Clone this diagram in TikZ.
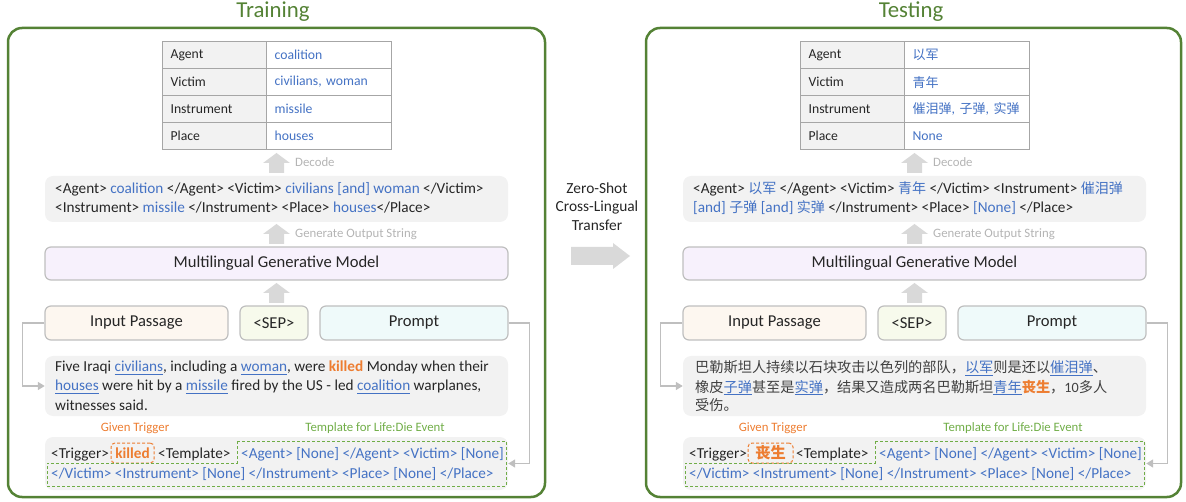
\documentclass[tikz,border=0pt]{standalone}
\usepackage{fontspec}
\setmainfont{Carlito}
\newfontfamily\cjk{Noto Sans CJK SC}
\usetikzlibrary{arrows.meta}
\definecolor{frameg}{HTML}{548235}
\definecolor{tgreen}{HTML}{70AD47}
\definecolor{tblue}{HTML}{4472C4}
\definecolor{torange}{HTML}{ED7D31}
\definecolor{tdark}{HTML}{262626}
\definecolor{cjkdark}{HTML}{404040}
\definecolor{lgray}{HTML}{F2F2F2}
\definecolor{bgray}{HTML}{BFBFBF}
\definecolor{agray}{HTML}{D9D9D9}
\definecolor{tabline}{HTML}{A6A6A6}
\definecolor{lblgray}{HTML}{B4B4B4}
\definecolor{mgmfill}{HTML}{F7F1FC}
\definecolor{inpfill}{HTML}{FDF7F0}
\definecolor{sepfill}{HTML}{F7FAEC}
\definecolor{prfill}{HTML}{EFFAFA}
\newcommand\myul[1]{\setbox0=\hbox{#1}\rlap{\rule[-3pt]{\wd0}{1.2pt}}\box0}
\newcommand\bl[1]{\textcolor{tblue}{#1}}
\newcommand\blu[1]{\textcolor{tblue}{\myul{#1}}}
\newcommand\kil[1]{\textcolor{torange}{\bfseries #1}}
\newcommand\cjo[1]{{\cjk\fontsize{14}{16}\selectfont #1}}
\newcommand\cjt[1]{{\cjk\fontsize{13}{16}\selectfont #1}}
\tikzset{
  frame/.style={draw=frameg, line width=2.5pt, rounded corners=14pt},
  ttl/.style={text=frameg, font=\fontsize{22.8}{26}\selectfont, inner sep=0pt},
  cellk/.style={draw=tabline, line width=1.2pt, fill=lgray, minimum height=27pt, text width=88pt, inner xsep=8pt, inner ysep=0pt, align=left, anchor=north west, font=\fontsize{13.7}{16}\selectfont},
  cellv/.style={cellk, fill=white, text width=109pt, text=tblue},
  gbox/.style={fill=lgray, rounded corners=8pt, inner sep=0pt},
  mbox/.style={draw=bgray, line width=1.2pt, rounded corners=6pt, inner sep=0pt, font=\fontsize{16.6}{19}\selectfont},
  ln/.style={anchor=base west, inner sep=0pt},
  lbl/.style={text=lblgray, font=\fontsize{12.8}{15}\selectfont, anchor=west, inner sep=0pt},
  conn/.style={draw=bgray, line width=1.5pt, -{Triangle[length=7pt,width=8pt]}},
  trigbox/.style={draw=torange, dash pattern=on 3pt off 2pt, line width=1pt, rounded corners=4pt, minimum width=43pt, minimum height=20pt, inner sep=0pt},
  tmplpath/.style={draw=tgreen, dash pattern=on 3pt off 2pt, line width=1pt},
  cjkln/.style={ln, font=\cjk\fontsize{14.2}{17}\selectfont, text=cjkdark},
  uparr/.pic={\fill[agray] (-7.5,0) -- (-7.5,-10) -- (-13.5,-10) -- (0,-20) -- (13.5,-10) -- (7.5,-10) -- (7.5,0) -- cycle;}
}
\begin{document}
\begin{tikzpicture}[x=1pt,y=-1pt, font=\fontsize{15.25}{18}\selectfont, text=tdark]
\useasboundingbox (0,0) rectangle (1186,502);
% ================= TRAINING =================
\node[ttl] (Lttl) at (273,12) {Training};
\draw[frame] (8,28) rectangle (545,497);
% table
\node[cellk] (La1) at (162,41) {Agent};
\node[cellv] (La2) at (266,41) {coalition};
\node[cellk] (Lv1) at (162,68) {Victim};
\node[cellv] (Lv2) at (266,68) {civilians, woman};
\node[cellk] (Li1) at (162,95) {Instrument};
\node[cellv] (Li2) at (266,95) {missile};
\node[cellk] (Lp1) at (162,122) {Place};
\node[cellv] (Lp2) at (266,122) {houses};
\pic at (276.5,173) {uparr};
\node[lbl] (Ldec) at (295,162) {Decode};
% output string
\node[gbox, minimum width=463pt, minimum height=46pt] (Lout) at (276.5,199) {};
\node[ln] (Lo1) at (55,194) {<Agent> \bl{coalition} </Agent> <Victim> \bl{civilians [and] woman} </Victim>};
\node[ln] (Lo2) at (55,213) {<Instrument> \bl{missile} </Instrument> <Place> \bl{houses}</Place>};
\pic at (276.5,244) {uparr};
\node[lbl] (Lgen) at (295,234) {Generate Output String};
\node[mbox, fill=mgmfill, minimum width=463pt, minimum height=33pt] (Lmgm) at (276.5,263.5) {Multilingual Generative Model};
\pic at (276.5,303) {uparr};
\node[mbox, fill=inpfill, minimum width=183pt, minimum height=34pt] (Linp) at (136.5,323) {Input Passage};
\node[mbox, fill=sepfill, minimum width=68pt, minimum height=34pt] (Lsep) at (274,323) {<SEP>};
\node[mbox, fill=prfill, minimum width=188pt, minimum height=34pt] (Lpr) at (414,323) {Prompt};
% passage
\node[gbox, minimum width=463pt, minimum height=60pt] (Lpas) at (276.5,386) {};
\node[ln] (Lt1) at (55,372) {Five Iraqi \blu{civilians}, including a \blu{woman}, were \kil{killed} Monday when their};
\node[ln] (Lt2) at (55,391) {\blu{houses} were hit by a \blu{missile} fired by the US - led \blu{coalition} warplanes,};
\node[ln] (Lt3) at (55,410) {witnesses said.};
\node[lbl, anchor=center, text=torange] (Lgt) at (135,428) {Given Trigger};
\node[lbl, anchor=center, text=tgreen] (Ltf) at (375,428) {Template for Life:Die Event};
% prompt
\node[gbox, minimum width=463pt, minimum height=53pt] (Lbot) at (276.5,463.5) {};
\node[ln] (Ltrg) at (51,458) {<Trigger>};
\node[trigbox] (Lkb) at (132.5,453) {\kil{killed}};
\node[ln] (Ltpl) at (158,458) {<Template>};
\node[ln] (Lb1) at (241,458) {\bl{<Agent> [None] </Agent> <Victim> [None]}};
\node[ln] (Lb2) at (51,478) {\bl{</Victim> <Instrument> [None] </Instrument> <Place> [None] </Place>}};
\draw[tmplpath] (237,441) -- (506,441) -- (506,486) -- (47,486) -- (47,463) -- (237,463) -- cycle;
\draw[conn] (Linp.west) -- ++(-22,0) |- (Lpas.west);
\draw[conn] (Lpr.east) -- ++(21,0) |- (Lbot.east);
% ================= MIDDLE =================
\node[align=center, font=\fontsize{15.4}{18.5}\selectfont] (zs) at (597,206.5) {Zero-Shot\\Cross-Lingual\\Transfer};
\fill[agray] (571,247) -- (613,247) -- (613,243) -- (630,256) -- (613,269) -- (613,265) -- (571,265) -- cycle;
% ================= TESTING =================
\node[ttl] (Rttl) at (911,12) {Testing};
\draw[frame] (646,28) rectangle (1181,497);
\node[cellk] (Ra1) at (800,41) {Agent};
\node[cellv] (Ra2) at (904,41) {\cjt{以军}};
\node[cellk] (Rv1) at (800,68) {Victim};
\node[cellv] (Rv2) at (904,68) {\cjt{青年}};
\node[cellk] (Ri1) at (800,95) {Instrument};
\node[cellv] (Ri2) at (904,95) {\mbox{\cjt{催泪弹}, \cjt{子弹}, \cjt{实弹}}};
\node[cellk] (Rp1) at (800,122) {Place};
\node[cellv] (Rp2) at (904,122) {None};
\pic at (914.5,173) {uparr};
\node[lbl] (Rdec) at (933,162) {Decode};
\node[gbox, minimum width=463pt, minimum height=46pt] (Rout) at (914.5,199) {};
\node[ln] (Ro1) at (693,194) {<Agent> \bl{\cjo{以军}} </Agent> <Victim> \bl{\cjo{青年}} </Victim> <Instrument> \bl{\cjo{催泪弹}}};
\node[ln] (Ro2) at (693,213) {\bl{[and] \cjo{子弹} [and] \cjo{实弹}} </Instrument> <Place> \bl{[None]} </Place>};
\pic at (914.5,244) {uparr};
\node[lbl] (Rgen) at (933,234) {Generate Output String};
\node[mbox, fill=mgmfill, minimum width=463pt, minimum height=33pt] (Rmgm) at (914.5,263.5) {Multilingual Generative Model};
\pic at (914.5,303) {uparr};
\node[mbox, fill=inpfill, minimum width=183pt, minimum height=34pt] (Rinp) at (774.5,323) {Input Passage};
\node[mbox, fill=sepfill, minimum width=68pt, minimum height=34pt] (Rsep) at (912,323) {<SEP>};
\node[mbox, fill=prfill, minimum width=188pt, minimum height=34pt] (Rpr) at (1052,323) {Prompt};
\node[gbox, minimum width=463pt, minimum height=60pt] (Rpas) at (914.5,386) {};
\node[cjkln] (Rt1) at (695,373) {巴勒斯坦人持续以石块攻击以色列的部队，\blu{以军}则是还以\blu{催泪弹}、};
\node[cjkln] (Rt2) at (695,392) {橡皮\blu{子弹}甚至是\blu{实弹}，结果又造成两名巴勒斯坦\blu{青年}\kil{丧生}，{\rmfamily 10}多人};
\node[cjkln] (Rt3) at (695,410) {受伤。};
\node[lbl, anchor=center, text=torange] (Rgt) at (773,428) {Given Trigger};
\node[lbl, anchor=center, text=tgreen] (Rtf) at (1013,428) {Template for Life:Die Event};
\node[gbox, minimum width=463pt, minimum height=53pt] (Rbot) at (914.5,463.5) {};
\node[ln] (Rtrg) at (689,458) {<Trigger>};
\node[trigbox, minimum width=45pt] (Rkb) at (770.5,453) {\kil{\cjk 丧生}};
\node[ln] (Rtpl) at (796,458) {<Template>};
\node[ln] (Rb1) at (879,458) {\bl{<Agent> [None] </Agent> <Victim> [None]}};
\node[ln] (Rb2) at (689,478) {\bl{</Victim> <Instrument> [None] </Instrument> <Place> [None] </Place>}};
\draw[tmplpath] (875,441) -- (1144,441) -- (1144,486) -- (685,486) -- (685,463) -- (875,463) -- cycle;
\draw[conn] (Rinp.west) -- ++(-22,0) |- (Rpas.west);
\draw[conn] (Rpr.east) -- ++(21,0) |- (Rbot.east);
\end{tikzpicture}
\end{document}
